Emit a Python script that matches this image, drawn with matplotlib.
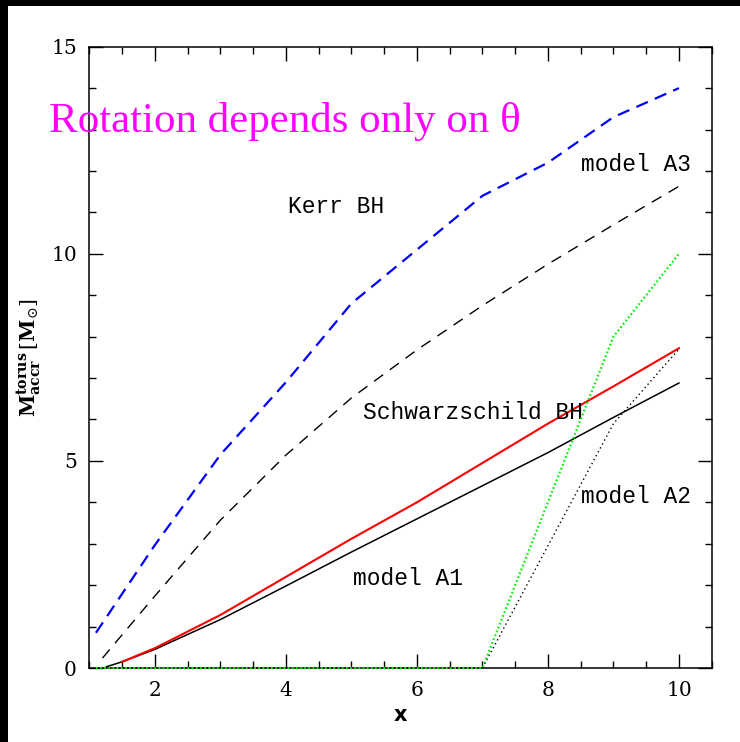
import matplotlib
matplotlib.use("Agg")
import matplotlib.pyplot as plt
from matplotlib.patches import Rectangle
from matplotlib.ticker import MultipleLocator

plt.rcParams['lines.scale_dashes'] = False
plt.rcParams['mathtext.fontset'] = 'dejavuserif'

# Data
kerr_a3_x = [1.1, 2, 3, 4, 5, 6, 7, 8, 9, 10]
kerr_a3_y = [0.85, 2.97, 5.15, 6.9, 8.8, 10.1, 11.4, 12.2, 13.3, 14.0]

schw_a3_x = [1.2, 2, 3, 4, 5, 6, 7, 8, 9, 10]
schw_a3_y = [0.24, 1.74, 3.57, 5.14, 6.52, 7.68, 8.75, 9.75, 10.7, 11.63]

kerr_a1_x = [1.5, 2, 3, 4, 5, 6, 7, 8, 9, 10]
kerr_a1_y = [0.15, 0.48, 1.28, 2.2, 3.12, 4.0, 4.95, 5.9, 6.8, 7.72]

schw_a1_x = [1.26, 1.5, 2, 3, 4, 5, 6, 7, 8, 9, 10]
schw_a1_y = [0.03, 0.15, 0.45, 1.17, 1.98, 2.8, 3.6, 4.4, 5.2, 6.05, 6.88]

kerr_a2_x = [1.1, 7, 9, 10]
kerr_a2_y = [0.0, 0.0, 8.0, 10.0]

schw_a2_x = [1.1, 7, 9, 10]
schw_a2_y = [0.0, 0.0, 5.9, 7.7]

xticks = [2, 4, 6, 8, 10]
yticks = [0, 5, 10, 15]

fig = plt.figure(figsize=(7.4, 7.42), dpi=100)
fig.patch.set_facecolor('white')
# black strips on top and left edge
fig.patches.append(Rectangle((0, 1 - 6/742), 1, 6/742, transform=fig.transFigure,
                             facecolor='black', edgecolor='none', zorder=0))
fig.patches.append(Rectangle((0, 0), 8/740, 1, transform=fig.transFigure,
                             facecolor='black', edgecolor='none', zorder=0))

ax = fig.add_axes([89.4/740, 1 - 668/742, (711.7 - 89.4)/740, (668 - 46.7)/742])

ax.plot(kerr_a3_x, kerr_a3_y, color='#0000ff', lw=1.6, dashes=(9, 5.5))
ax.plot(schw_a3_x, schw_a3_y, color='black', lw=1.0, dashes=(8, 6))
ax.plot(schw_a2_x, schw_a2_y, color='black', lw=1.0, dashes=(1.0, 2.2),
        clip_on=False, zorder=3)
ax.plot(schw_a1_x, schw_a1_y, color='black', lw=1.1)
ax.plot(kerr_a1_x, kerr_a1_y, color='#ff0000', lw=1.5)
ax.plot(kerr_a2_x, kerr_a2_y, color='#00ee00', lw=1.6, dashes=(1.2, 1.8),
        clip_on=False, zorder=3.1)

ax.set_xlim(1, 10.5)
ax.set_ylim(0, 15)
ax.set_xticks(xticks)
ax.set_yticks(yticks)
ax.xaxis.set_minor_locator(MultipleLocator(0.5))
ax.yaxis.set_minor_locator(MultipleLocator(1))
ax.tick_params(which='both', direction='in', top=True, right=True, width=1.0, color='black')
ax.tick_params(which='major', length=10, pad=9)
ax.tick_params(which='minor', length=5)
for lab in ax.get_xticklabels() + ax.get_yticklabels():
    lab.set_fontfamily('DejaVu Serif')
    lab.set_fontsize(14.5)
for sp in ax.spines.values():
    sp.set_linewidth(1.1)

ax.set_xlabel('x', fontsize=15, fontweight='bold', family='DejaVu Sans', labelpad=4)
ax.set_ylabel(r'$\mathbf{M}^{\mathbf{torus}}_{\mathbf{accr}}\,[\mathbf{M}_{\odot}]$',
              fontsize=14.5, labelpad=6)

mono = 'Liberation Mono'
fs = 16.5
ax.text(4.76, 11.13, 'Kerr BH', family=mono, fontsize=fs, ha='center', va='center')
ax.text(9.35, 12.15, 'model A3', family=mono, fontsize=fs, ha='center', va='center')
ax.text(6.85, 6.18, 'Schwarzschild BH', family=mono, fontsize=fs, ha='center', va='center')
ax.text(9.35, 4.13, 'model A2', family=mono, fontsize=fs, ha='center', va='center')
ax.text(5.86, 2.17, 'model A1', family=mono, fontsize=fs, ha='center', va='center')

fig.text(49/740, 1 - 132/742, 'Rotation depends only on θ', color='#ff00ff',
         family='Liberation Serif', fontsize=31, ha='left', va='baseline')

fig.savefig('out.png', dpi=100)
